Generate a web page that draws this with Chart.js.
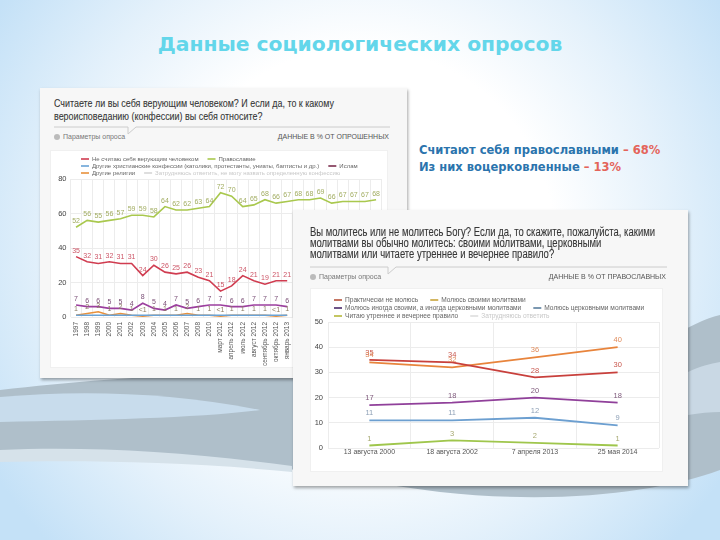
<!DOCTYPE html>
<html><head><meta charset="utf-8">
<script src="https://cdn.jsdelivr.net/npm/chart.js@4/dist/chart.umd.min.js"></script>
<style>
html,body{margin:0;padding:0}
body{width:720px;height:540px;position:relative;overflow:hidden;
 background:radial-gradient(ellipse 60% 80% at 50% 45%, #ffffff 45%, #e4f1fb 72%, #c4e1f7 100%);font-family:"Liberation Sans",Arial,sans-serif}
#bg{position:absolute;left:0;top:0}
#title{position:absolute;left:0;width:720px;top:32px;text-align:center;font-family:"DejaVu Sans",sans-serif;font-weight:bold;font-size:20.3px;color:#63d6ea}
.panel{position:absolute;background:#f7f7f7;box-shadow:1px 2px 3px rgba(0,0,0,0.35)}
.q{position:absolute;font-family:"Liberation Sans",Arial,sans-serif;color:#363636;white-space:nowrap;transform-origin:0 0;-webkit-text-stroke:0.1px #363636}
.q span{display:block}
.params{position:absolute;font-size:7px;color:#777;white-space:nowrap}
.params:before{content:"";display:inline-block;width:6px;height:6px;border-radius:3px;background:#bbb;margin-right:3px;vertical-align:-1px}
.units{position:absolute;font-size:7px;color:#555;white-space:nowrap;text-align:right}
.inner{position:absolute;background:#fff;border:1px solid #f0f0f0;box-sizing:border-box}
.inner canvas{position:absolute;left:0;top:0}
.sep{position:absolute}
#note{position:absolute;left:419px;top:142px;font-family:"DejaVu Sans",sans-serif;font-weight:bold;font-size:11.5px;line-height:17px;color:#2b74ad;white-space:nowrap}
#note span{color:#e4645a}
</style></head>
<body>
<svg id="bg" width="720" height="540">
 <path d="M0,390 C90,380 200,370 300,378 C420,390 520,420 600,380 C650,350 690,322 720,315 L720,470 C660,492 560,505 440,492 C360,482 300,470 230,460 C150,452 80,450 0,452 Z" fill="#afbfca"/>
 <path d="M0,397 C80,390 170,392 260,410 C200,418 100,420 0,422 Z" fill="#c8dcec"/>
 <path d="M0,450 C90,446 190,452 292,466 L292,472 C190,462 90,460 0,462 Z" fill="#d6e2ea"/>
 <path d="M688,372 C700,366 710,364 720,362 L720,412 C710,412 700,413 688,415 Z" fill="#c9d8e4"/>
</svg>
<div id="title">Данные социологических опросов</div>

<div class="panel" style="left:40px;top:88px;width:367px;height:290px">
 <div class="q" data-w="280" style="left:14px;top:9px;font-size:11.5px;line-height:12.5px"><span>Считаете ли вы себя верующим человеком? И если да, то к какому</span><span>вероисповеданию (конфессии) вы себя относите?</span></div>
 <svg class="sep" style="left:14px;top:35px" width="336" height="12"><polyline points="0,4 74,4 74,11 82,4 336,4" fill="none" stroke="#ccc" stroke-width="1"/></svg>
 <div class="params" style="left:14px;top:45px">Параметры опроса</div>
 <div class="units" style="right:18px;top:45px">ДАННЫЕ В % ОТ ОПРОШЕННЫХ</div>
 <div class="inner" style="left:10px;top:62px;width:338px;height:218px"><canvas id="c1" width="338" height="218"></canvas></div>
</div>

<div id="note">Считают себя православными <span>– 68%</span><br>Из них воцерковленные <span>– 13%</span></div>

<div class="panel" style="left:293px;top:210px;width:395px;height:276px">
 <div class="q" data-w="345" style="left:17px;top:17px;font-size:12px;line-height:11px"><span>Вы молитесь или не молитесь Богу? Если да, то скажите, пожалуйста, какими</span><span>молитвами вы обычно молитесь: своими молитвами, церковными</span><span>молитвами или читаете утреннее и вечернее правило?</span></div>
 <svg class="sep" style="left:17px;top:53px" width="357" height="12"><polyline points="0,4 78,4 78,11 86,4 357,4" fill="none" stroke="#ccc" stroke-width="1"/></svg>
 <div class="params" style="left:17px;top:63px">Параметры опроса</div>
 <div class="units" style="right:22px;top:63px">ДАННЫЕ В % ОТ ПРАВОСЛАВНЫХ</div>
 <div class="inner" style="left:17px;top:78px;width:353px;height:184px"><canvas id="c2" width="353" height="184"></canvas></div>
</div>

<script>
// fit condensed question text to the width of the original
document.querySelectorAll('.q').forEach(el=>{
  const first = el.querySelector('span');
  const r = document.createRange(); r.selectNodeContents(first);
  const w = r.getBoundingClientRect().width;
  el.style.transform = 'scaleX(' + (parseFloat(el.dataset.w)/w) + ')';
});

// ---- Chart 1: confession (data in % of respondents) ----
const surveyDates1 = ['1997','1998','1999','2000','2001','2002','2003','2004','2005','2006','2007','2008','2010','март 2012','апрель 2012','июль 2012','август 2012','сентябрь 2012','октябрь 2012','январь 2013','март 2013','апрель 2013','май 2013','июль 2013','сентябрь 2013','январь 2014','март 2014','май 2014'];
const notBeliever    = [35,32,31,32,31,31,24,30,26,25,26,23,21,15,18,24,21,19,21,21,null,null,null,null,null,null,null,null];
const orthodoxy      = [52,56,55,56,57,59,59,58,64,62,62,63,64,72,70,64,65,68,66,67,68,68,69,66,67,67,67,68];
const otherChristian = [1,1,1,1,1,1,1,1,1,1,1,1,1,1,1,1,1,1,1,1,null,null,null,null,null,null,null,null];
const islam          = [7,6,6,5,5,4,8,5,4,7,5,6,7,7,6,6,7,7,7,6,null,null,null,null,null,null,null,null];
const otherReligions = [1,2,3,1,2,1,0.5,1,1,1,2,1,1,0.5,1,1,1,1,0.5,1,null,null,null,null,null,null,null,null];
const undecided1     = [];
const yTicks1 = [0,20,40,60,80];

// ---- Chart 2: prayer (data in % of Orthodox) ----
const surveyDates2 = ['13 августа 2000','18 августа 2002','7 апреля 2013','25 мая 2014'];
const hardlyPray   = [35,34,28,30];
const ownPrayers   = [34,32,36,40];
const mixedPrayers = [17,18,20,18];
const churchPrayers= [11,11,12,9];
const rulePrayers  = [1,3,2,1];
const undecided2   = [];
const yTicks2 = [0,10,20,30,40,50];

const pointLabels = {
  id:'pointLabels',
  afterDatasetsDraw(chart, args, opts){
    const ctx = chart.ctx; ctx.save();
    ctx.font = opts.font; ctx.textAlign='center'; ctx.textBaseline='middle';
    chart.data.datasets.forEach((ds,di)=>{
      if(!ds.showLabels) return;
      const meta = chart.getDatasetMeta(di);
      meta.data.forEach((pt,i)=>{
        const v = ds.data[i];
        if(v===null||v===undefined) return;
        ctx.fillStyle = ds.labelColor || ds.borderColor;
        ctx.fillText(v<1?'<1':String(v), pt.x, pt.y - opts.offset);
      });
    });
    ctx.restore();
  }
};
const rowLegend = {
  id:'rowLegend',
  afterDraw(chart, args, opts){
    const ctx = chart.ctx; ctx.save();
    ctx.font = opts.font; ctx.textBaseline='middle'; ctx.textAlign='left';
    opts.rows.forEach((row,r)=>{
      let x = opts.x; const y = opts.y + r*opts.rowHeight;
      row.forEach(di=>{
        const ds = chart.data.datasets[di];
        ctx.strokeStyle = ds.legendLine || ds.borderColor; ctx.lineWidth = 1.6;
        ctx.beginPath(); ctx.moveTo(x,y); ctx.lineTo(x+opts.lineLen,y); ctx.stroke();
        ctx.fillStyle = ds.legendText || opts.color;
        ctx.fillText(ds.label, x+opts.lineLen+3, y);
        x += opts.lineLen + 3 + ctx.measureText(ds.label).width + opts.gap;
      });
    });
    ctx.restore();
  }
};

function ds(label, data, color, labelColor, show, extra){
  return Object.assign({label, data, borderColor:color, backgroundColor:color, labelColor, showLabels:show,
    borderWidth:1.6, pointRadius:0, tension:0, fill:false, spanGaps:false}, extra||{});
}

new Chart(document.getElementById('c1'), {
  type:'line',
  data:{labels:surveyDates1, datasets:[
    ds('Не считаю себя верующим человеком', notBeliever, '#d03c50', '#cc5566', true),
    ds('Православие', orthodoxy, '#a9c84e', '#a2ad62', true),
    ds('Другие христианские конфессии (католики, протестанты, униаты, баптисты и др.)', otherChristian, '#6aa3d6', '#8f9fb0', false),
    ds('Ислам', islam, '#9c3f9e', '#7a4f76', true, {legendLine:'#7c2f4f'}),
    ds('Другие религии', otherReligions, '#e8913c', '#8a7a60', true),
    ds('Затрудняюсь ответить, не могу назвать определенную конфессию', undecided1, '#d6d6d6', '#ccc', false, {legendText:'#c8c8c8'})
  ]},
  options:{
    responsive:false, animation:false,
    layout:{padding:{top:28,right:6,left:0,bottom:0}},
    plugins:{legend:{display:false}, tooltip:{enabled:false},
      pointLabels:{font:'7px "Liberation Sans", Arial, sans-serif', offset:6},
      rowLegend:{rows:[[0,1],[2,3],[4,5]], x:30, y:8, rowHeight:7, lineLen:8, gap:9, font:'6px "Liberation Sans", Arial, sans-serif', color:'#666'}},
    scales:{
      x:{offset:true, grid:{offset:true, color:'#ececec', drawTicks:false}, border:{display:false},
         ticks:{minRotation:90, maxRotation:90, autoSkip:false, padding:5, color:'#555', font:{size:6.5, family:'"Liberation Sans", Arial'}},
         afterFit(s){ s.height = 52; }},
      y:{min:0, max:80, grid:{color:'#ececec', drawTicks:false}, border:{display:false},
         afterBuildTicks(s){ s.ticks = yTicks1.map(v=>({value:v})); },
         ticks:{padding:4, color:'#444', font:{size:7.5, family:'"Liberation Sans", Arial'}},
         afterFit(s){ s.width = 19.5; }}
    }
  },
  plugins:[pointLabels,rowLegend]
});

new Chart(document.getElementById('c2'), {
  type:'line',
  data:{labels:surveyDates2, datasets:[
    ds('Практически не молюсь', hardlyPray, '#c8403c', '#c9584e', true, {borderWidth:1.8, legendLine:'#b8563e'}),
    ds('Молюсь своими молитвами', ownPrayers, '#e8843c', '#e08c5c', true, {borderWidth:1.8, legendLine:'#c9a43a'}),
    ds('Молюсь иногда своими, а иногда церковными молитвами', mixedPrayers, '#90409a', '#7f5a7c', true, {borderWidth:1.8, legendLine:'#4a2a6a'}),
    ds('Молюсь церковными молитвами', churchPrayers, '#6c9fd0', '#8ea0b6', true, {borderWidth:1.8, legendLine:'#5a7e9e'}),
    ds('Читаю утреннее и вечернее правило', rulePrayers, '#9fc64c', '#a6a870', true, {borderWidth:1.8, legendLine:'#b5b83a'}),
    ds('Затрудняюсь ответить', undecided2, '#dddddd', '#ccc', false, {legendText:'#c8c8c8'})
  ]},
  options:{
    responsive:false, animation:false,
    layout:{padding:{top:33,right:5,left:0,bottom:0}},
    plugins:{legend:{display:false}, tooltip:{enabled:false},
      pointLabels:{font:'7.5px "Liberation Sans", Arial, sans-serif', offset:7},
      rowLegend:{rows:[[0,1],[2,3],[4,5]], x:23, y:11, rowHeight:8, lineLen:8, gap:12, font:'6.6px "Liberation Sans", Arial, sans-serif', color:'#666'}},
    scales:{
      x:{offset:true, grid:{offset:true, color:'#ececec', drawTicks:false}, border:{display:false},
         ticks:{autoSkip:false, maxRotation:0, padding:0, color:'#555', font:{size:7, family:'"Liberation Sans", Arial'}},
         afterFit(s){ s.height = 25; }},
      y:{min:0, max:50, grid:{color:'#ececec', drawTicks:false}, border:{display:false},
         afterBuildTicks(s){ s.ticks = yTicks2.map(v=>({value:v})); },
         ticks:{padding:5, color:'#444', font:{size:7.5, family:'"Liberation Sans", Arial'}},
         afterFit(s){ s.width = 17; }}
    }
  },
  plugins:[pointLabels,rowLegend]
});
</script>
</body></html>
